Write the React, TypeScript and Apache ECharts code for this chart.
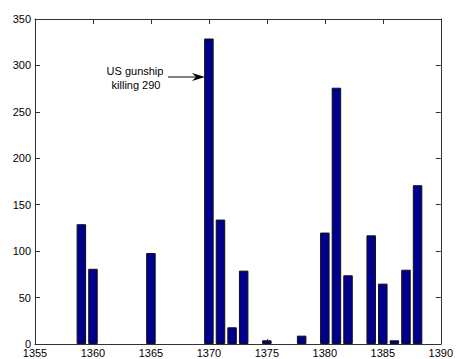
import React, { useEffect, useRef } from "react";
import * as echarts from "echarts";

const years = [1359, 1360, 1365, 1370, 1371, 1372, 1373, 1375, 1378, 1380, 1381, 1382, 1384, 1385, 1386, 1387, 1388];
const values = [129, 81, 98, 329, 134, 18, 79, 4, 9, 120, 276, 74, 117, 65, 4, 80, 171];
const annotationLines = ["US gunship", "killing 290"];

export default function App() {
  const ref = useRef<HTMLDivElement>(null);
  useEffect(() => {
    if (!ref.current) return;
    const chart = echarts.init(ref.current, undefined, { renderer: "svg" });
    const font = "Liberation Sans, Arial, sans-serif";
    const axisColor = "#333";
    const common = {
      axisLine: { show: true, onZero: false, lineStyle: { color: axisColor, width: 1 } },
      axisTick: { show: true, inside: true, length: 5, lineStyle: { color: axisColor } },
      splitLine: { show: false },
    };
    const fmt = (v: number) => String(v);
    chart.setOption({
      animation: false,
      backgroundColor: "#fff",
      grid: { left: 35, right: 10, top: 19, bottom: 15, containLabel: false },
      xAxis: [
        {
          type: "value", min: 1355, max: 1390, interval: 5, position: "bottom",
          ...common,
          axisLabel: { color: "#000", fontFamily: font, fontSize: 11, margin: 3, formatter: fmt },
        },
        {
          type: "value", min: 1355, max: 1390, interval: 5, position: "top",
          ...common,
          axisLabel: { show: false },
        },
      ],
      yAxis: [
        {
          type: "value", min: 0, max: 350, interval: 50, position: "left",
          ...common,
          axisLabel: { color: "#000", fontFamily: font, fontSize: 11, margin: 4, formatter: fmt },
        },
        {
          type: "value", min: 0, max: 350, interval: 50, position: "right",
          ...common,
          axisLabel: { show: false },
        },
      ],
      series: [
        {
          type: "bar",
          xAxisIndex: 0,
          yAxisIndex: 0,
          barWidth: 9.5,
          data: years.map((y, i) => [y, values[i]]),
          itemStyle: { color: "#00008c", borderColor: "#111", borderWidth: 1 },
        },
      ],
      graphic: [
        {
          type: "text", x: 135, y: 71,
          style: { text: annotationLines[0], fill: "#000", font: `11px ${font}`, textAlign: "center", textVerticalAlign: "middle" },
        },
        {
          type: "text", x: 136, y: 85,
          style: { text: annotationLines[1], fill: "#000", font: `11px ${font}`, textAlign: "center", textVerticalAlign: "middle" },
        },
        {
          type: "line",
          shape: { x1: 168, y1: 77, x2: 200, y2: 77 },
          style: { stroke: "#000", lineWidth: 1 },
        },
        {
          type: "polygon",
          shape: { points: [[205, 77], [192, 73], [196, 77], [192, 81]] },
          style: { fill: "#000" },
        },
      ],
    });
    return () => chart.dispose();
  }, []);
  return <div ref={ref} style={{ width: 456, height: 359, position: "absolute", left: 0, top: 0 }} />;
}
